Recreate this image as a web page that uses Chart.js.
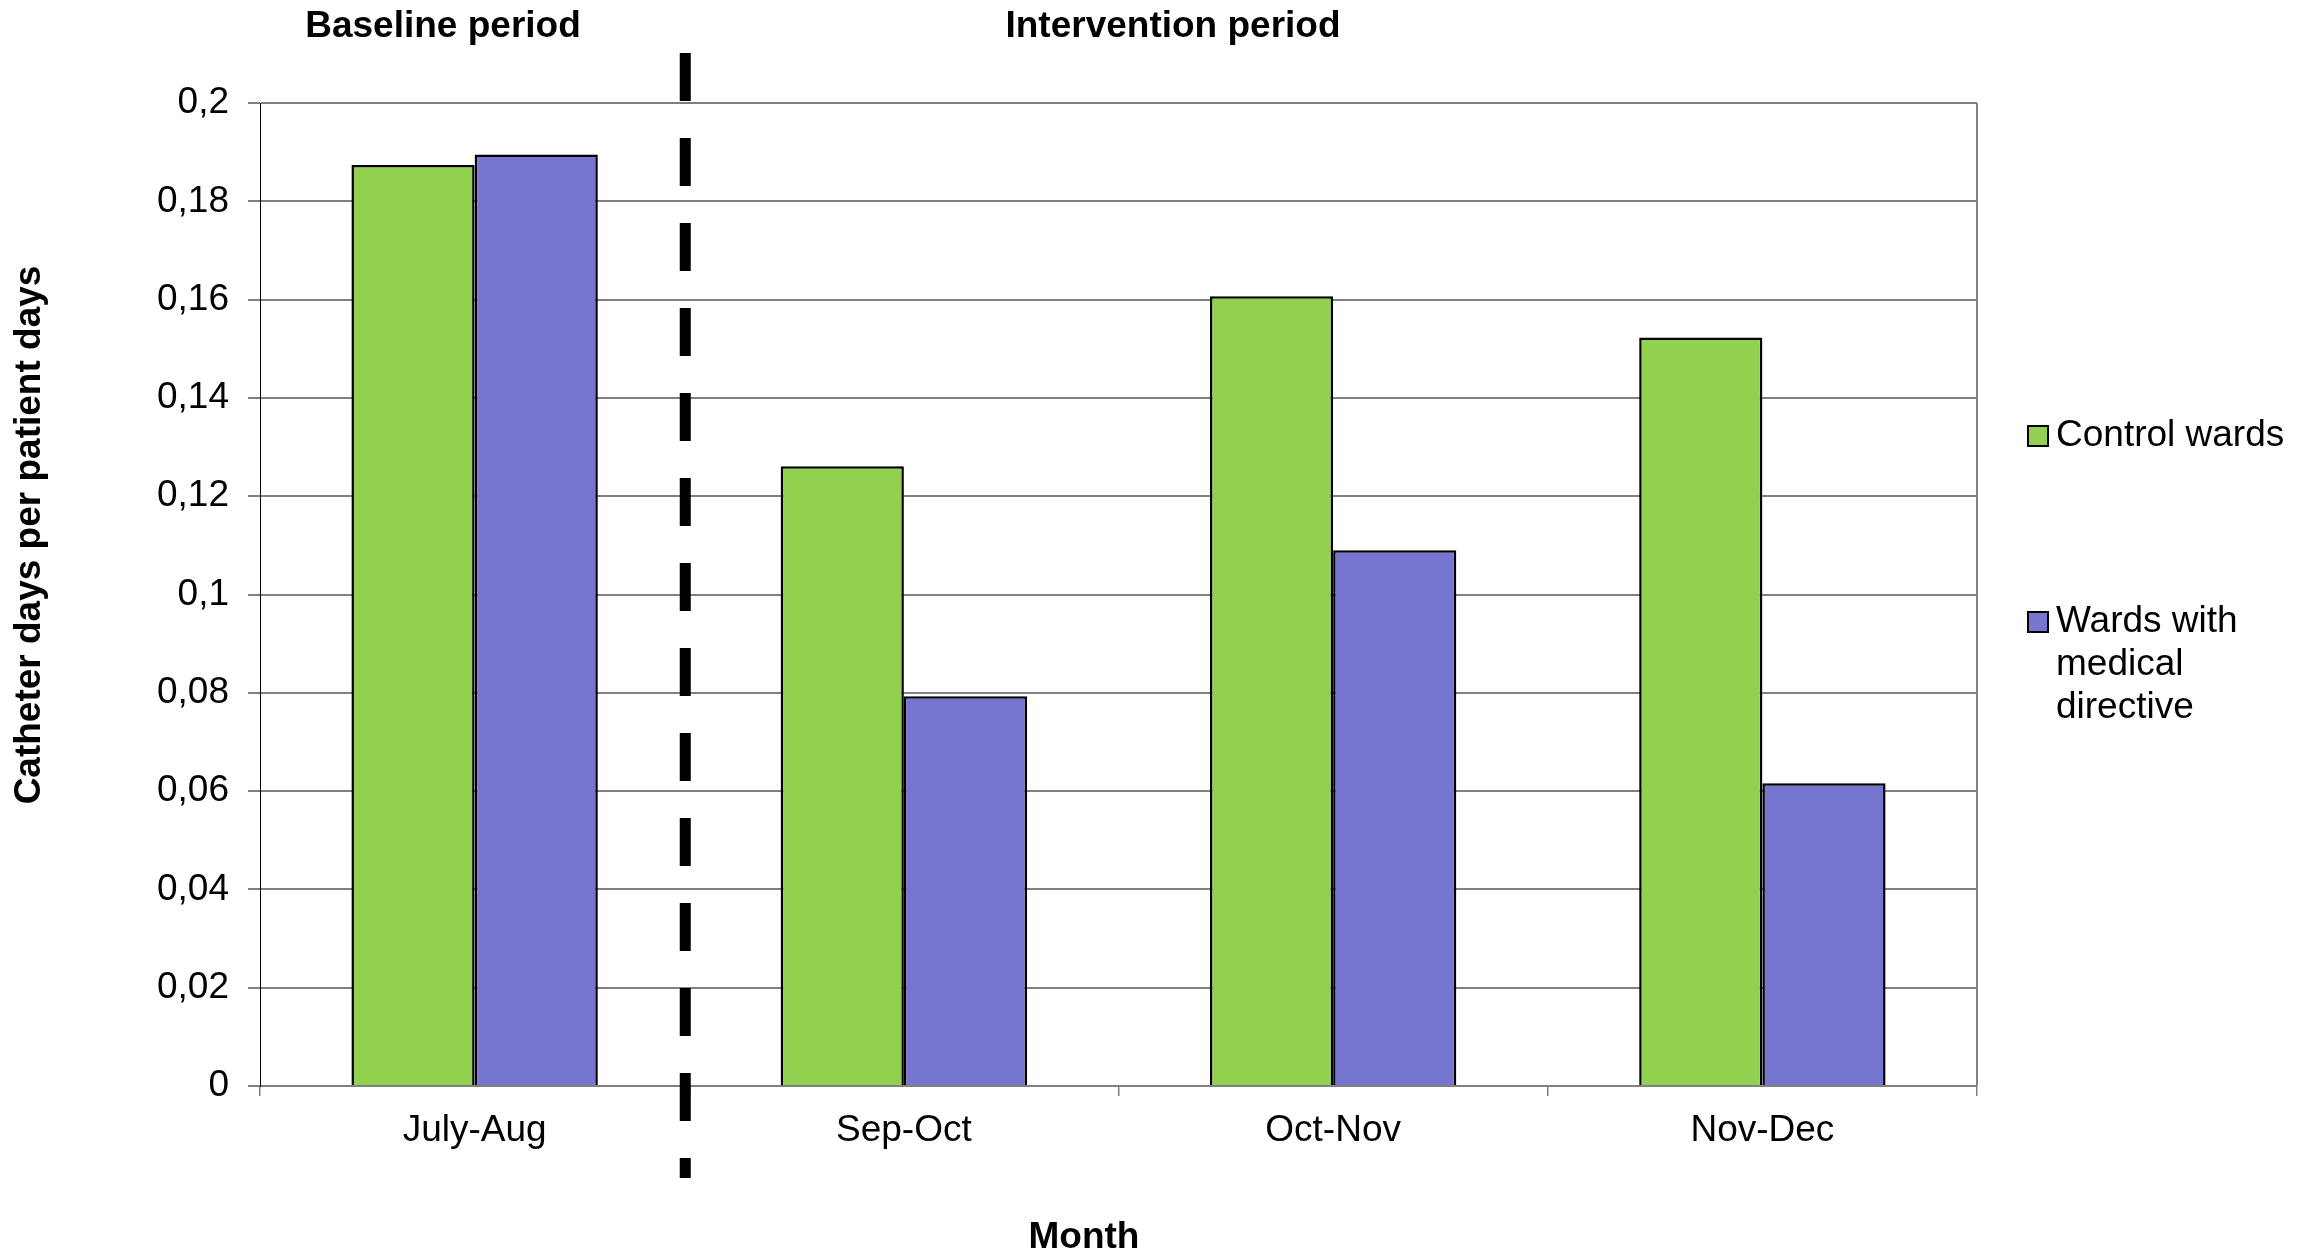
<!DOCTYPE html>
<html>
<head>
<meta charset="utf-8">
<script src="https://cdn.jsdelivr.net/npm/chart.js@4.4.0/dist/chart.umd.min.js"></script>
<style>
  html, body { margin: 0; padding: 0; background: #ffffff; }
  #wrap { width: 2313px; height: 1255px; }
</style>
</head>
<body>
<div id="wrap"><canvas id="chart" width="2313" height="1255"></canvas></div>
<script>
// Two-month periods on the x axis
const months = ['July-Aug', 'Sep-Oct', 'Oct-Nov', 'Nov-Dec'];
// Catheter days per patient days
const controlWards = [0.1874, 0.1261, 0.1607, 0.1523];
const directiveWards = [0.1895, 0.0793, 0.1090, 0.0616];
const seriesNames = ['Control wards', 'Wards with medical directive'];
const seriesColors = ['#92d050', '#7676d0'];
// Value axis range and step
const yMin = 0, yMax = 0.2, yStep = 0.02;
// Period headings above the plot
const periodNames = ['Baseline period', 'Intervention period'];
const xTitle = 'Month';
const yTitle = 'Catheter days per patient days';

const FONT = "'Liberation Sans', Arial, Helvetica, sans-serif";
Chart.defaults.font.family = FONT;
Chart.defaults.font.size = 37;
Chart.defaults.color = '#000000';

const fmtTick = v => String(parseFloat(Number(v).toFixed(2))).replace('.', ',');

// Right frame line, period divider, headings, axis titles and legend
const decorations = {
  id: 'decorations',
  afterDraw(chart) {
    const { ctx, chartArea: a, scales } = chart;
    ctx.save();

    // right edge of the plot frame
    ctx.strokeStyle = '#808080';
    ctx.lineWidth = 2;
    ctx.beginPath();
    ctx.moveTo(a.right, a.top);
    ctx.lineTo(a.right, a.bottom);
    ctx.stroke();

    // dashed divider between the baseline and intervention periods
    const divX = (scales.x.getPixelForValue(0) + scales.x.getPixelForValue(1)) / 2 - 4;
    ctx.strokeStyle = '#000000';
    ctx.lineWidth = 11;
    ctx.setLineDash([48, 37]);
    ctx.beginPath();
    ctx.moveTo(divX, a.top - 50);
    ctx.lineTo(divX, a.bottom + 92);
    ctx.stroke();
    ctx.setLineDash([]);

    // period headings
    ctx.fillStyle = '#000000';
    ctx.font = 'bold 37px ' + FONT;
    ctx.textAlign = 'center';
    ctx.textBaseline = 'middle';
    ctx.fillText(periodNames[0], 443, 27);
    ctx.fillText(periodNames[1], 1173, 27);

    // axis titles
    ctx.fillText(xTitle, 1084, 1238);
    ctx.save();
    ctx.translate(30, 535);
    ctx.rotate(-Math.PI / 2);
    ctx.fillText(yTitle, 0, 0);
    ctx.restore();

    // legend
    ctx.font = '37px ' + FONT;
    ctx.textAlign = 'left';
    const boxX = 2028, textX = 2056, maxW = chart.width - textX;
    const lineH = 43;
    const starts = [436, 622];
    chart.data.datasets.forEach((ds, i) => {
      const words = ds.label.split(' ');
      const lines = [];
      let cur = '';
      words.forEach(w => {
        const t = cur ? cur + ' ' + w : w;
        if (cur && ctx.measureText(t).width > maxW) { lines.push(cur); cur = w; }
        else cur = t;
      });
      lines.push(cur);
      const y0 = starts[i];
      ctx.fillStyle = ds.backgroundColor;
      ctx.fillRect(boxX, y0 - 10, 20, 20);
      ctx.strokeStyle = '#000000';
      ctx.lineWidth = 2;
      ctx.strokeRect(boxX, y0 - 10, 20, 20);
      ctx.fillStyle = '#000000';
      lines.forEach((ln, k) => ctx.fillText(ln, textX, y0 + k * lineH));
    });

    ctx.restore();
  }
};

new Chart(document.getElementById('chart'), {
  type: 'bar',
  data: {
    labels: months,
    datasets: [
      {
        label: seriesNames[0],
        data: controlWards,
        backgroundColor: seriesColors[0],
        borderColor: '#000000',
        borderWidth: 2.5,
        barPercentage: 1,
        categoryPercentage: 0.574
      },
      {
        label: seriesNames[1],
        data: directiveWards,
        backgroundColor: seriesColors[1],
        borderColor: '#000000',
        borderWidth: 2.5,
        barPercentage: 1,
        categoryPercentage: 0.574
      }
    ]
  },
  options: {
    responsive: false,
    animation: false,
    devicePixelRatio: 1,
    layout: { padding: { top: 103, right: 336, left: 0, bottom: 0 } },
    plugins: {
      legend: { display: false },
      tooltip: { enabled: false },
      title: { display: false }
    },
    scales: {
      x: {
        afterFit(scale) { scale.height = 169; },
        grid: {
          display: true,
          drawOnChartArea: false,
          drawTicks: true,
          tickLength: 10,
          color: '#808080',
          lineWidth: 1.5
        },
        border: { display: true, color: '#808080', width: 2 },
        ticks: { padding: 13, font: { size: 37 }, color: '#000000', maxRotation: 0 }
      },
      y: {
        min: yMin,
        max: yMax,
        afterFit(scale) { scale.width = 260; },
        grid: {
          color: '#808080',
          lineWidth: 2,
          tickLength: 12
        },
        border: { display: true, color: '#000000', width: 1 },
        ticks: {
          stepSize: yStep,
          padding: 19,
          font: { size: 37 },
          color: '#000000',
          callback: v => fmtTick(v)
        }
      }
    }
  },
  plugins: [decorations]
});
</script>
</body>
</html>
